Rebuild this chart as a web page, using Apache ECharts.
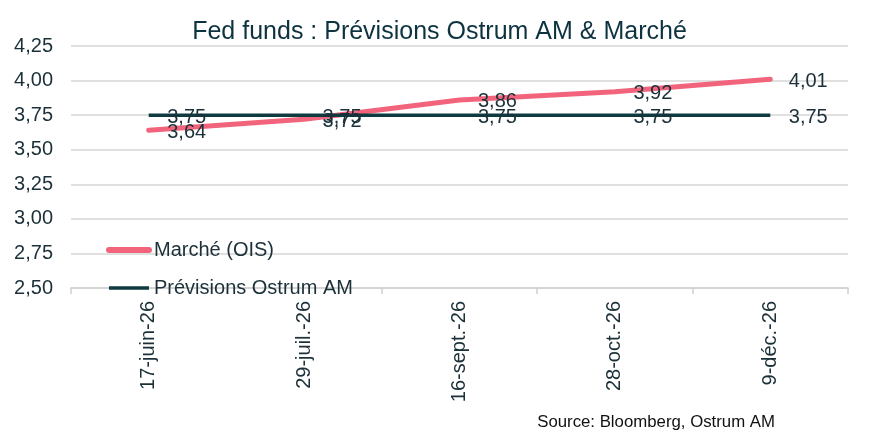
<!DOCTYPE html>
<html>
<head>
<meta charset="utf-8">
<script src="https://cdn.jsdelivr.net/npm/echarts@6/dist/echarts.min.js"></script>
<style>
  html, body { margin: 0; padding: 0; background: #fff; }
  #container { width: 879px; height: 444px; }
</style>
</head>
<body>
<div id="container"></div>
<script>
var categories = ['17-juin-26', '29-juil.-26', '16-sept.-26', '28-oct.-26', '9-déc.-26'];
var marche = [3.64, 3.72, 3.86, 3.92, 4.01];
var previsions = [3.75, 3.75, 3.75, 3.75, 3.75];

var dom = document.getElementById("container");
var myChart = echarts.init(dom);
var font = 'Liberation Sans, Arial, sans-serif';
var txt = '#1b3038';
var fmt = function (v) { return Number(v).toFixed(2).replace('.', ','); };
var pink = '#f2647c', dark = '#0e3a40';

var dataLabel = {
    show: true, position: 'right', distance: 18, offset: [0, 2], opacity: 1,
    fontFamily: font, fontSize: 20, color: txt,
    formatter: function (p) { return fmt(p.value); }
};

var option = {
    animation: false,
    title: {
        text: 'Fed funds : Prévisions Ostrum AM & Marché',
        left: 'center',
        top: 15,
        textStyle: { fontFamily: font, fontSize: 25, fontWeight: 'normal', color: '#0d3340' }
    },
    graphic: [{
        type: 'text',
        right: 104,
        top: 414,
        style: { text: 'Source: Bloomberg, Ostrum AM', fontFamily: font, fontSize: 16.8, fill: '#111' }
    }],
    legend: {
        orient: 'vertical',
        left: 101,
        top: 235,
        itemWidth: 40,
        itemHeight: 14,
        itemGap: 18,
        itemStyle: { opacity: 0 },
        textStyle: { fontFamily: font, fontSize: 20, color: txt },
        data: [
            { name: 'Marché (OIS)', lineStyle: { width: 6, color: pink } },
            { name: 'Prévisions Ostrum AM', lineStyle: { width: 3.5, color: dark } }
        ]
    },
    grid: { left: 71, right: 31, top: 46, bottom: 156 },
    xAxis: {
        type: 'category',
        data: categories,
        boundaryGap: true,
        axisLine: { lineStyle: { color: '#d0d0d0', width: 1.5 } },
        axisTick: { show: true, length: 6, lineStyle: { color: '#d0d0d0', width: 1.5 } },
        axisLabel: { rotate: 90, margin: 13, fontFamily: font, fontSize: 20, color: txt }
    },
    yAxis: {
        type: 'value',
        min: 2.5,
        max: 4.25,
        interval: 0.25,
        axisLine: { show: false },
        axisTick: { show: false },
        splitLine: { lineStyle: { color: '#d6d6d6', width: 1.5 } },
        axisLabel: { margin: 18, fontFamily: font, fontSize: 20, color: txt, formatter: fmt }
    },
    series: [
        {
            name: 'Marché (OIS)',
            type: 'line',
            data: marche,
            symbol: 'circle',
            symbolSize: 1,
            lineStyle: { color: pink, width: 5, cap: 'round' },
            itemStyle: { color: pink, opacity: 0 },
            label: dataLabel
        },
        {
            name: 'Prévisions Ostrum AM',
            type: 'line',
            data: previsions,
            symbol: 'circle',
            symbolSize: 1,
            lineStyle: { color: dark, width: 3.5 },
            itemStyle: { color: dark, opacity: 0 },
            label: dataLabel
        }
    ]
};
if (option && typeof option === "object") {
    myChart.setOption(option, true);
}
</script>
</body>
</html>
